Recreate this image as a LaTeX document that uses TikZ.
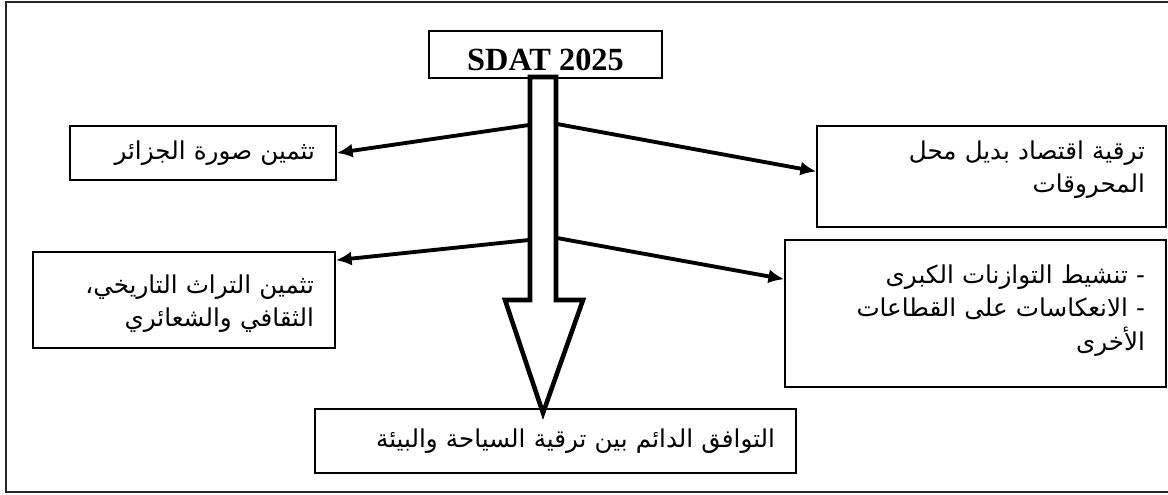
\documentclass[tikz,border=0pt]{standalone}
\usepackage{fontspec}
\setmainfont{Liberation Serif}
\newfontfamily\arabicfont[Script=Arabic]{DejaVu Sans}
\TeXXeTstate=1
\usepackage{tikz}
\usetikzlibrary{arrows.meta}
\tikzstyle{box} = [draw=black, line width=0.9pt, inner xsep=0.42cm, inner ysep=0pt, align=right, font=\arabicfont\fontsize{14}{19}\selectfont]
\tikzstyle{title} = [draw=black, line width=0.9pt, inner sep=0pt, font=\bfseries\fontsize{18.4}{20}\selectfont]
\tikzstyle{tedge}  = [draw, line width=2.2pt, >={Latex[length=9pt,width=8pt]}, ->]
\tikzstyle{bigarrow} = [draw, line width=2.6pt, fill=white, miter limit=20]

\begin{document}
\begin{tikzpicture}[x=0.02cm, y=-0.02cm]
\useasboundingbox (0,0) rectangle (1168,494);

% frame
\draw[black!85, line width=0.8pt] (1168,2) -- (6,2) -- (6,492) -- (1168,492);

% boxes ==================================
\node[title, minimum width=4.66cm, minimum height=0.94cm, text height=0.64cm, text depth=0pt] (sdat) at (545.5,54.5) {SDAT 2025};

\node[box, text width=4.48cm, minimum height=1.08cm] (image) at (203,153) {\beginR تثمين صورة الجزائر\endR};
\node[box, text width=6.14cm, minimum height=2.02cm, text depth=1.06cm] (eco) at (991.5,176.5) {\beginR ترقية اقتصاد بديل محل\endR\\ \beginR المحروقات\endR};
\node[box, text width=5.20cm, minimum height=1.92cm, text depth=0.65cm] (heritage) at (184,300) {\beginR تثمين التراث التاريخي،\endR\\ \beginR الثقافي والشعائري\endR};
\node[box, text width=6.78cm, minimum height=2.94cm, text depth=1.58cm] (balance) at (975.5,313.5) {\beginR - تنشيط التوازنات الكبرى\endR\\ \beginR - الانعكاسات على القطاعات\endR\\ \beginR الأخرى\endR};
\node[box, text width=8.78cm, minimum height=1.28cm] (env) at (555.5,441) {\beginR التوافق الدائم بين ترقية السياحة والبيئة\endR};

% big arrow
\draw[bigarrow] (530,77) -- (530,300) -- (505,300) -- (543,413) -- (583,300) -- (556,300) -- (556,77) -- cycle;

% points on the shaft
\coordinate (sl1) at (529,125);
\coordinate (sr1) at (557,124);
\coordinate (sl2) at (529,240);
\coordinate (sr2) at (557,238);

%edges
\path[tedge] (sl1) -- (image.east);
\path[tedge] (sr1) -- ([yshift=0.1cm]eco.west);
\path[tedge] (sl2) -- ([yshift=-0.18cm]heritage.north east);
\path[tedge] (sr2) -- ([yshift=-0.8cm]balance.north west);

\end{tikzpicture}
\end{document}
